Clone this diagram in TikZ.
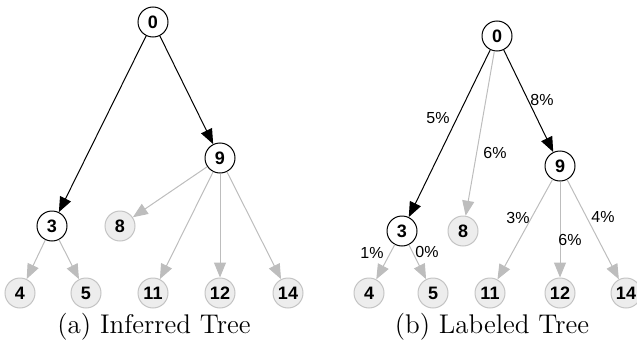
\documentclass[tikz,border=0pt]{standalone}
\usepackage{fontspec}
\newfontfamily\nodefont{Liberation Sans}
\usetikzlibrary{arrows.meta}
\definecolor{edgegrey}{HTML}{BDBDBD}
\definecolor{nodefill}{HTML}{EDEDED}
\definecolor{nodeline}{HTML}{C4C4C4}
\begin{document}
\begin{tikzpicture}[x=0.5pt,y=-0.5pt,
  vert/.style={circle, line width=0.5pt, minimum size=15pt, inner sep=0pt,
               font=\nodefont\bfseries\fontsize{9}{10}\selectfont},
  hot/.style={vert, draw=black, fill=white},
  cold/.style={vert, draw=nodeline, fill=nodefill},
  strong/.style={-{Triangle[length=7.5pt,width=6pt]}, line width=0.5pt, draw=black},
  weak/.style={-{Triangle[length=7.5pt,width=6pt]}, line width=0.5pt, draw=edgegrey},
  pct/.style={font=\nodefont\fontsize{8}{9}\selectfont, inner sep=0pt},
  caption/.style={font=\fontsize{13.5}{15}\selectfont, inner sep=0pt}]
\useasboundingbox (0,0) rectangle (637,348);

% (a) inferred tree
\node[hot]  (a0)  at (153,22)  {0};
\node[hot]  (a9)  at (220,158) {9};
\node[hot]  (a3)  at (52,226)  {3};
\node[cold] (a8)  at (120,226) {8};
\node[cold] (a4)  at (20,293)  {4};
\node[cold] (a5)  at (86,293)  {5};
\node[cold] (a11) at (153,293) {11};
\node[cold] (a12) at (220,293) {12};
\node[cold] (a14) at (288,293) {14};

\draw[strong] (a0) -- (a3);
\draw[strong] (a0) -- (a9);
\draw[weak] (a9) -- (a8);
\draw[weak] (a9) -- (a11);
\draw[weak] (a9) -- (a12);
\draw[weak] (a9) -- (a14);
\draw[weak] (a3) -- (a4);
\draw[weak] (a3) -- (a5);

\node[caption] (capa) at (154,327) {(a) Inferred Tree};

% (b) labeled tree
\node[hot]  (b0)  at (497,36)  {0};
\node[hot]  (b9)  at (560,166) {9};
\node[hot]  (b3)  at (402,231) {3};
\node[cold] (b8)  at (463,231) {8};
\node[cold] (b4)  at (369,293) {4};
\node[cold] (b5)  at (433,293) {5};
\node[cold] (b11) at (490,293) {11};
\node[cold] (b12) at (560,293) {12};
\node[cold] (b14) at (626,293) {14};

\draw[strong] (b0) -- (b3);
\draw[weak]   (b0) -- (b8);
\draw[strong] (b0) -- (b9);
\draw[weak] (b9) -- (b11);
\draw[weak] (b9) -- (b12);
\draw[weak] (b9) -- (b14);
\draw[weak] (b3) -- (b4);
\draw[weak] (b3) -- (b5);

\node[pct] (l03)  at (438,118) {5\%};
\node[pct] (l08)  at (495,153) {6\%};
\node[pct] (l09)  at (542,100) {8\%};
\node[pct] (l911) at (518,218) {3\%};
\node[pct] (l912) at (570,240) {6\%};
\node[pct] (l914) at (603,217) {4\%};
\node[pct] (l34)  at (372,253) {1\%};
\node[pct] (l35)  at (427,252) {0\%};

\node[caption] (capb) at (492,327) {(b) Labeled Tree};
\end{tikzpicture}
\end{document}
